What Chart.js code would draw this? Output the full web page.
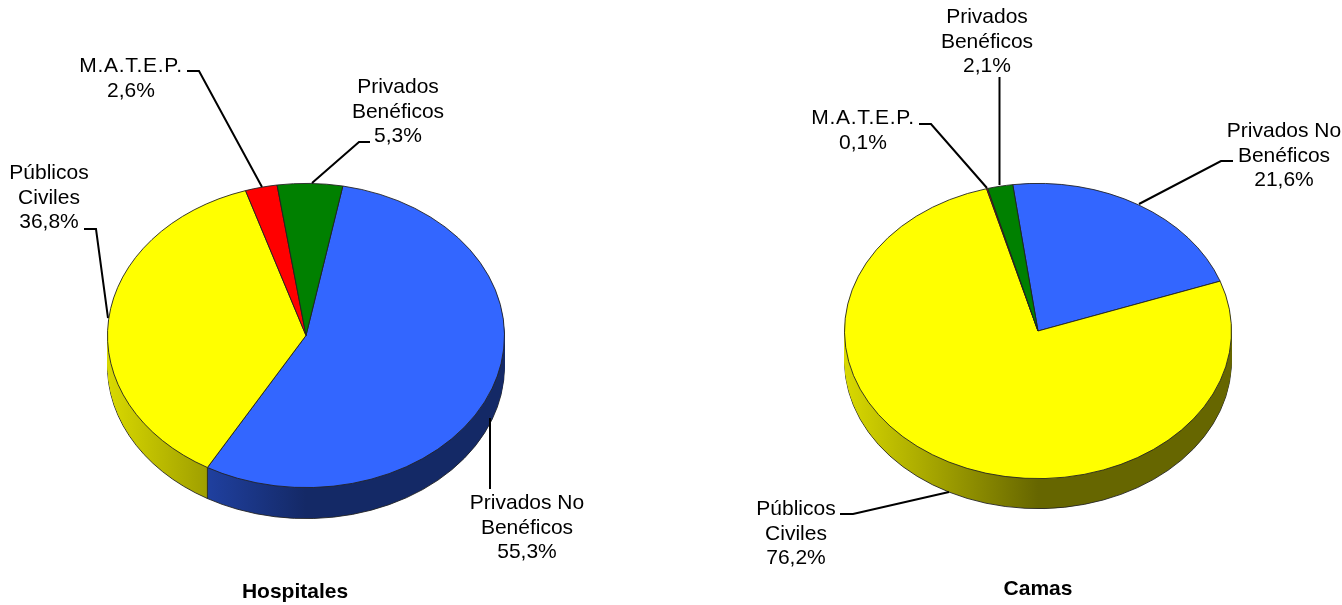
<!DOCTYPE html>
<html lang="es">
<head>
<meta charset="utf-8">
<title>Hospitales y Camas</title>
<script src="https://cdn.jsdelivr.net/npm/chart.js@4"></script>
<style>
    html, body { margin: 0; padding: 0; background: #fff; overflow: hidden; }
    canvas { position: absolute; top: 0; }
    #hospitales { left: 0; }
    #camas { left: 734px; }
</style>
</head>
<body>
<canvas id="hospitales" width="590" height="605"></canvas>
<canvas id="camas" width="608" height="605"></canvas>
<script>
// ==============================
// DATA
// ==============================
const categorias = ["Privados No Benéficos", "Públicos Civiles", "M.A.T.E.P.", "Privados Benéficos"];
const etiquetas = [["Privados No", "Benéficos"], ["Públicos", "Civiles"], ["M.A.T.E.P."], ["Privados", "Benéficos"]];
const valoresHospitales = [55.3, 36.8, 2.6, 5.3];
const valoresCamas = [21.6, 76.2, 0.1, 2.1];
const colores = ["#3366ff", "#ffff00", "#ff0000", "#008000"];

// ==============================
// LABEL PLACEMENT (x, first baseline, then leader line points)
// ==============================
const notasHospitales = [
    { x: 527, y: 509, line: [[490, 418], [490, 489]] },
    { x: 49, y: 179, line: [[84, 229], [96, 229], [108, 318]] },
    { x: 131, y: 72, line: [[187, 71], [199, 71], [262, 187]] },
    { x: 398, y: 93, line: [[370, 142], [359, 142], [312, 183]] }
];
const notasCamas = [
    { x: 1284, y: 137, line: [[1233, 161], [1221, 161], [1139, 204]] },
    { x: 796, y: 515, line: [[840, 514], [853, 514], [949, 492]] },
    { x: 863, y: 124, line: [[919, 124], [931, 124], [987, 188]] },
    { x: 987, y: 23, line: [[999.5, 77], [999.5, 185]] }
];

const FONT = '"Liberation Sans", Arial, sans-serif';

function oscurecer(hex, f) {
    const n = parseInt(hex.slice(1), 16);
    return `rgb(${((n >> 16) & 255) * f},${((n >> 8) & 255) * f},${(n & 255) * f})`;
}

// ==============================
// TILTED PIE: squash the library's arcs and extrude the wall
// ==============================
const pie3d = {
    id: "pie3d",
    beforeDatasetsDraw(chart, args, opts) {
        const ctx = chart.ctx;
        const arcs = chart.getDatasetMeta(0).data;
        const { x: cx, y: cy, outerRadius: r } = arcs[0];
        const k = opts.ratio;

        ctx.save();
        ctx.translate(cx + opts.shiftX, cy);
        ctx.scale(1, k);
        ctx.translate(-cx, -cy);

        const orden = [...arcs].sort((a, b) => a.circumference - b.circumference);
        for (let d = opts.depth; d >= 1; d--) {
            orden.forEach(arc => {
                const original = arc.options;
                const base = colores[arcs.indexOf(arc)];
                const g = ctx.createLinearGradient(cx - r, 0, cx + r, 0);
                g.addColorStop(0, oscurecer(base, 0.85));
                g.addColorStop(0.5, oscurecer(base, 0.4));
                g.addColorStop(1, oscurecer(base, 0.4));
                arc.options = Object.assign({}, original, {
                    backgroundColor: g,
                    borderWidth: d === opts.depth ? 1 : 0
                });
                ctx.save();
                ctx.translate(0, d / k);
                arc.draw(ctx);
                ctx.restore();
                arc.options = original;
            });
        }

        // slice edges on the visible front of the wall
        ctx.strokeStyle = "#222";
        ctx.lineWidth = 1;
        arcs.forEach(arc => {
            const s = Math.sin(arc.endAngle);
            if (s <= 0) return;
            const px = cx + r * Math.cos(arc.endAngle);
            const py = cy + r * s;
            ctx.beginPath();
            ctx.moveTo(px, py);
            ctx.lineTo(px, py + opts.depth / k);
            ctx.stroke();
        });
    },
    afterDatasetsDraw(chart) {
        chart.ctx.restore();
    },
    afterDraw(chart, args, opts) {
        const ctx = chart.ctx;
        const valores = chart.data.datasets[0].data;
        const offset = chart.canvas.offsetLeft;
        ctx.save();
        ctx.translate(-offset, 0);
        ctx.font = "21px " + FONT;
        ctx.fillStyle = "#000";
        ctx.textAlign = "center";
        ctx.textBaseline = "alphabetic";
        ctx.strokeStyle = "#000";
        ctx.lineWidth = 2;
        opts.notas.forEach((n, i) => {
            const lineas = [...etiquetas[i], valores[i].toFixed(1).replace(".", ",") + "%"];
            lineas.forEach((t, j) => {
                ctx.letterSpacing = t === "M.A.T.E.P." ? "0.7px" : "0px";
                ctx.fillText(t, n.x, n.y + j * 24.6);
            });
            ctx.beginPath();
            n.line.forEach((p, j) => j ? ctx.lineTo(p[0], p[1]) : ctx.moveTo(p[0], p[1]));
            ctx.stroke();
        });
        ctx.restore();
    }
};

function crearTarta(id, titulo, valores, rotacion, padding, tituloPad, tilt, notas) {
    return new Chart(document.getElementById(id), {
        type: "pie",
        data: {
            labels: categorias,
            datasets: [{
                data: valores,
                backgroundColor: colores,
                borderColor: "#222",
                borderWidth: 1
            }]
        },
        options: {
            responsive: false,
            animation: false,
            events: [],
            rotation: rotacion,
            layout: { padding },
            plugins: {
                legend: { display: false },
                tooltip: { enabled: false },
                title: {
                    display: true,
                    text: titulo,
                    position: "bottom",
                    color: "#000",
                    font: { family: FONT, size: 21, weight: "bold", lineHeight: 1.2 },
                    padding: { top: tituloPad, bottom: 0 }
                },
                pie3d: { ...tilt, notas }
            }
        },
        plugins: [pie3d]
    });
}

// ==============================
// INIT
// ==============================
crearTarta("hospitales", "Hospitales", valoresHospitales, 10.7,
    { left: 96, right: 96, top: 136.5, bottom: 0 }, 45.3,
    { ratio: 152.5 / 199, depth: 31, shiftX: 11 }, notasHospitales);
crearTarta("camas", "Camas", valoresCamas, -7.5,
    { left: 110, right: 110, top: 137, bottom: 3.4 }, 51.4,
    { ratio: 148 / 194, depth: 30, shiftX: 0 }, notasCamas);
</script>
</body>
</html>
